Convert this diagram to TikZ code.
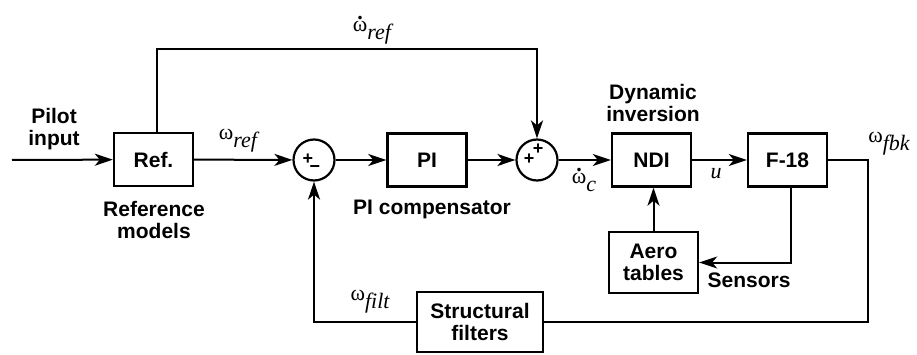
\documentclass[tikz,border=0pt]{standalone}
\usepackage{fontspec}
\setmainfont{Liberation Sans}
\newfontfamily\greekfont{Liberation Serif}
\usetikzlibrary{arrows.meta,positioning}
\newcommand{\wsig}[1]{{\greekfont\mdseries\fontsize{22}{22}\selectfont ω\raisebox{-8pt}{\itshape #1}}}
\newcommand{\wdsig}[1]{{\greekfont\mdseries\fontsize{22}{22}\selectfont\ooalign{ω\cr\hfil\raisebox{12pt}{\bfseries.}\hfil\cr}\raisebox{-8pt}{\itshape #1}}}
\begin{document}
\begin{tikzpicture}[x=1pt,y=-1pt,
  every node/.style={font=\fontsize{21}{22}\selectfont\bfseries},
  block/.style={draw, line width=2.4pt, minimum width=79pt, minimum height=53pt, inner sep=0pt, align=center},
  sumnode/.style={circle, draw, line width=2.2pt, minimum size=41pt, inner sep=0pt},
  sig/.style={line width=2pt, -{Stealth[length=18pt,width=12pt,inset=5pt]}},
  wire/.style={line width=2pt},
  txt/.style={align=center, inner sep=0pt},
  lab/.style={inner sep=0pt},
  sgn/.style={font=\fontsize{18}{18}\selectfont\bfseries, inner sep=0pt}]
\useasboundingbox (0,0) rectangle (917,355);
\node[txt] (pilot) at (54,129) {Pilot\\input};
\coordinate (in) at (12,160);
\node[block] (ref) at (153.5,159.5) {Ref.};
\node[txt] (refm) at (154,220) {Reference\\models};
\node[sumnode] (sum1) at (314,160) {};
\node[block] (pi) at (427,160) {PI};
\node[txt] (pic) at (432,209) {PI compensator};
\node[sumnode] (sum2) at (537,160) {};
\node[block] (ndi) at (651.5,160) {NDI};
\node[txt] (dyn) at (653,103) {Dynamic\\inversion};
\node[block] (f18) at (787.5,160) {F-18};
\node[block, minimum width=89pt, minimum height=61pt] (aero) at (653.5,262.5) {Aero\\tables};
\node[block, minimum width=126pt, minimum height=60pt] (filt) at (480,322) {Structural\\filters};
\node[txt] (sens) at (749,280) {Sensors};
% signal names
\node[lab] (wref) at (238,141) {\wsig{ref}};
\node[lab] (wdref) at (372,33) {\wdsig{ref}};
\node[lab] (wdc) at (584,182) {\wdsig{c}};
\node[lab] (u) at (716,174) {{\greekfont\mdseries\itshape\fontsize{22}{22}\selectfont u}};
\node[lab] (wfbk) at (889,144) {\wsig{fbk}};
\node[lab] (wfilt) at (370,302) {\wsig{filt}};
% summing signs
\node[sgn] (s1p) at ([shift={(-6,-1)}]sum1) {+};
\node[sgn] (s1m) at ([shift={(1,9)}]sum1) {−};
\node[sgn] (s2a) at ([shift={(-8,-1)}]sum2) {+};
\node[sgn] (s2b) at ([shift={(1,-11)}]sum2) {+};
\coordinate (topl) at (157,49);
\coordinate (topr) at (537,49);
\coordinate (outd) at (868,322);
\coordinate (sensd) at (791,261);
\draw[sig] (in) -- (ref);
\draw[sig] (ref) -- (sum1);
\draw[sig] (sum1) -- (pi);
\draw[sig] (pi) -- (sum2);
\draw[sig] (sum2) -- (ndi);
\draw[sig] (ndi) -- (f18);
\draw[sig] (ref.north -| topl) |- (topr) -- (sum2);
\draw[wire] (f18) -| (outd) -- (filt);
\draw[sig] (filt) -| (sum1);
\draw[sig] (aero.north) -- (aero.north |- ndi.south);
\draw[sig] (f18.south -| sensd) |- (aero);
\end{tikzpicture}
\end{document}
